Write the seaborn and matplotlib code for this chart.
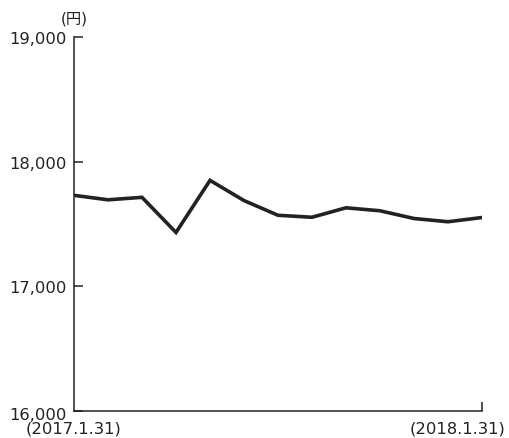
import matplotlib
matplotlib.use("Agg")
import matplotlib.pyplot as plt
from matplotlib.transforms import ScaledTranslation
import seaborn as sns
import pandas as pd

# Month-end prices, 2017-01-31 through 2018-01-31
months = list(range(13))
prices = [17730, 17694, 17714, 17432, 17850, 17688, 17570,
          17554, 17630, 17606, 17544, 17518, 17552]
y_ticks = [16000, 17000, 18000, 19000]
y_tick_labels = ["16,000", "17,000", "18,000", "19,000"]
x_ticks = [0, 12]
x_tick_labels = ["(2017.1.31)", "(2018.1.31)"]
unit_label = "(円)"

sns.set_style("ticks")
plt.rcParams["font.family"] = ["DejaVu Sans", "Noto Sans CJK JP"]

df = pd.DataFrame({"month": months, "price": prices})

fig = plt.figure(figsize=(5.10, 4.39), dpi=100)
ax = fig.add_axes([74 / 510, 27 / 439, 408 / 510, 374 / 439])

sns.lineplot(data=df, x="month", y="price", ax=ax, color="#222222",
             linewidth=2.6, solid_joinstyle="miter")

ax.set_xlim(0, 12)
ax.set_ylim(16000, 19000)
ax.set_xticks(x_ticks)
ax.set_xticklabels(x_tick_labels)
ax.set_yticks(y_ticks)
ax.set_yticklabels(y_tick_labels)
ax.set_xlabel("")
ax.set_ylabel("")

for side in ("top", "right"):
    ax.spines[side].set_visible(False)
for side in ("left", "bottom"):
    ax.spines[side].set_linewidth(1.1)
    ax.spines[side].set_color("#222222")

ax.tick_params(axis="both", direction="in", length=6.5, width=1.1,
               color="#222222", labelcolor="#222222", labelsize=11.8)
ax.tick_params(axis="y", pad=5)
ax.tick_params(axis="x", pad=7)

# First x label sits under the spine; the last one is shifted left to stay inside
xlabels = ax.get_xticklabels()
ax.xaxis.get_major_ticks()[0].tick1line.set_visible(False)
xlabels[1].set_transform(xlabels[1].get_transform()
                         + ScaledTranslation(-0.24, 0, fig.dpi_scale_trans))

# The lowest y label hangs slightly below the spine
ylabels = ax.get_yticklabels()
ylabels[0].set_transform(ylabels[0].get_transform()
                         + ScaledTranslation(0, -0.02, fig.dpi_scale_trans))

ax.annotate(unit_label, xy=(0, 1), xycoords="axes fraction",
            xytext=(0, 13.5), textcoords="offset points",
            ha="center", va="center", fontsize=11, color="#222222")

fig.savefig("out.png", dpi=100)
